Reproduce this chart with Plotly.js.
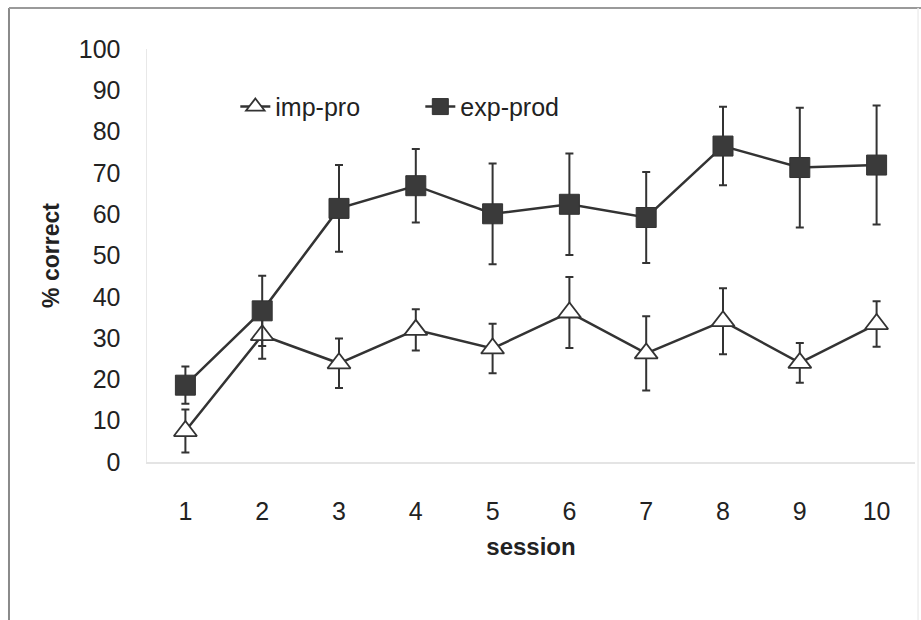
<!DOCTYPE html>
<html>
<head>
<meta charset="utf-8">
<script src="https://cdn.plot.ly/plotly-3.0.1.min.js"></script>
<style>html,body{margin:0;padding:0;background:#fff;}#chart{width:921px;height:620px;}</style>
</head>
<body>
<div id="chart"></div>
<script>
var sessions = [1, 2, 3, 4, 5, 6, 7, 8, 9, 10];
var impPro = [7.5, 30.7, 23.9, 32.0, 27.5, 36.2, 26.3, 34.1, 24.0, 33.4];
var impProErr = [5.2, 5.7, 6.0, 5.0, 6.0, 8.6, 9.0, 8.0, 4.8, 5.5];
var expProd = [18.6, 36.6, 61.4, 66.9, 60.1, 62.4, 59.2, 76.5, 71.3, 71.9];
var expProdErr = [4.5, 8.5, 10.5, 8.9, 12.2, 12.3, 11.0, 9.5, 14.5, 14.4];
var yTicks = [0, 10, 20, 30, 40, 50, 60, 70, 80, 90, 100];

var dark = '#333333';
var font = 'Liberation Sans, Arial, sans-serif';

var traces = [
  {
    x: sessions, y: impPro, name: 'imp-pro', type: 'scatter', mode: 'lines+markers',
    line: {color: dark, width: 2.5},
    marker: {symbol: 'triangle-up', size: 20, color: '#ffffff', line: {color: dark, width: 1.8}},
    error_y: {type: 'data', array: impProErr, visible: true, color: dark, thickness: 2, width: 4}
  },
  {
    x: sessions, y: expProd, name: 'exp-prod', type: 'scatter', mode: 'lines+markers',
    line: {color: dark, width: 2.5},
    marker: {symbol: 'square', size: 20, color: '#3a3a3a', line: {color: dark, width: 1}},
    error_y: {type: 'data', array: expProdErr, visible: true, color: dark, thickness: 2, width: 4}
  }
];

var layout = {
  width: 921, height: 620,
  margin: {l: 147, r: 6, t: 49, b: 158},
  paper_bgcolor: '#ffffff', plot_bgcolor: '#ffffff',
  font: {family: font, color: '#222222', size: 24},
  showlegend: true,
  legend: {
    orientation: 'h', x: 0.115, y: 0.86, xanchor: 'left', yanchor: 'middle',
    bgcolor: 'rgba(0,0,0,0)', font: {family: font, size: 25, color: '#222'},
    itemwidth: 30, entrywidth: 140, entrywidthmode: 'pixels', tracegroupgap: 0
  },
  xaxis: {
    range: [0.5, 10.5], tickmode: 'array', tickvals: sessions, ticktext: sessions.map(String),
    showgrid: false, zeroline: false, showline: true, linecolor: '#e4e4e4', linewidth: 1.5,
    ticks: '', ticklabelstandoff: 26,
    tickfont: {family: font, size: 25, color: '#222'},
    title: {text: '<b>session</b>', font: {family: font, size: 24, color: '#222'}, standoff: 14}
  },
  yaxis: {
    range: [0, 100], tickmode: 'array', tickvals: yTicks,
    showgrid: false, zeroline: false, showline: true, linecolor: '#e8e8e8', linewidth: 1.5,
    ticks: '', ticklabelstandoff: 20,
    tickfont: {family: font, size: 25, color: '#222'},
    title: {text: '<b>% correct</b>', font: {family: font, size: 23, color: '#222'}, standoff: 12}
  },
  shapes: [
    {type: 'line', xref: 'paper', yref: 'paper', x0: -0.1797, x1: -0.1797, y0: 1.099, y1: -0.383,
     line: {color: '#8a8a8a', width: 2}},
    {type: 'line', xref: 'paper', yref: 'paper', x0: -0.1797, x1: 1.008, y0: 1.099, y1: 1.099,
     line: {color: '#9a9a9a', width: 2}},
    {type: 'line', xref: 'paper', yref: 'paper', x0: 1.004, x1: 1.004, y0: 1.099, y1: -0.383,
     line: {color: '#eeeeee', width: 1.5}}
  ]
};

Plotly.newPlot('chart', traces, layout, {displayModeBar: false, staticPlot: true});
</script>
</body>
</html>
